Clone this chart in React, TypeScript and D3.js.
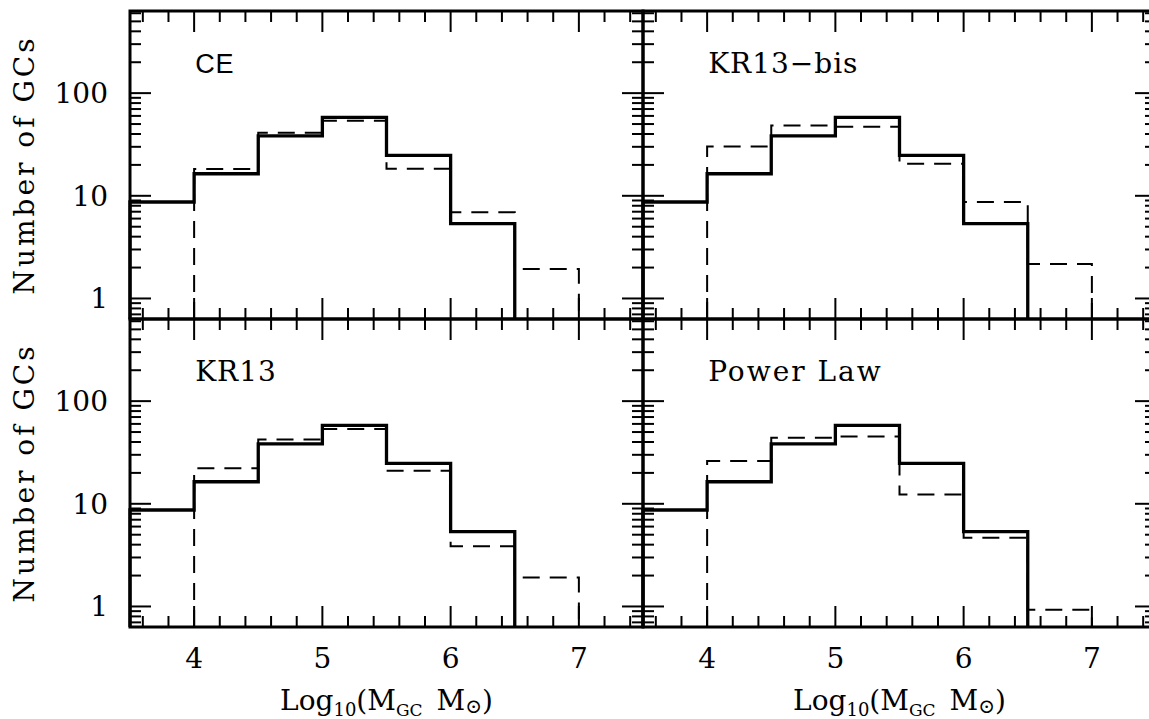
import React from 'react';
import * as d3 from 'd3';

// ---- data ----
const binEdges = [3.5, 4, 4.5, 5, 5.5, 6, 6.5, 7];
const observedCounts = [8.7, 16.4, 38.3, 58, 24.8, 5.35, 0];
const modelCE = [0, 18.2, 41.2, 53.8, 18.3, 6.9, 1.94];
const modelKR13bis = [0, 30.2, 48.5, 47.1, 20.5, 8.7, 2.17];
const modelKR13 = [0, 22.2, 42.4, 53.4, 21.0, 3.85, 1.91];
const modelPowerLaw = [0, 26.1, 44.0, 45.3, 12.3, 4.68, 0.93];
const panelNames = ['CE', 'KR13\u2212bis', 'KR13', 'Power Law'];
const panelModels = [modelCE, modelKR13bis, modelKR13, modelPowerLaw];
const xTickLabels = [4, 5, 6, 7];
const yTickLabels = [1, 10, 100];
const xDomain = [3.5, 7.5];
const yDomain = [Math.pow(10, -0.2), Math.pow(10, 2.8)];

// ---- layout ----
const W = 1149;
const H = 719;
const LEFT = 130;
const TOP = 11;
const PW = 513;
const PH = 308;
const SERIF = 'DejaVu Serif';

function stepPoints(values: number[]): [number, number | null][] {
  let first = values.findIndex((v) => v > 0);
  let last = values.length - 1;
  while (last >= 0 && !(values[last] > 0)) last--;
  const pts: [number, number | null][] = [];
  pts.push([binEdges[first], null]);
  for (let i = first; i <= last; i++) {
    pts.push([binEdges[i], values[i]]);
    pts.push([binEdges[i + 1], values[i]]);
  }
  pts.push([binEdges[last + 1], null]);
  return pts;
}

function Panel({ idx }: { idx: number }) {
  const col = idx % 2;
  const row = Math.floor(idx / 2);
  const x0 = LEFT + col * PW;
  const y0 = TOP + row * PH;
  const x = d3.scaleLinear().domain(xDomain).range([x0, x0 + PW]);
  const y = d3.scaleLog().domain(yDomain).range([y0 + PH, y0]);
  const yVal = (v: number | null) => (v == null ? y0 + PH : y(v));
  const line = d3
    .line<[number, number | null]>()
    .x((d) => x(d[0]))
    .y((d) => yVal(d[1]));

  const xTicks = d3.range(18, 38).map((k) => k / 5);
  const yTicks: number[] = [];
  for (let d = -1; d <= 2; d++) {
    for (let k = 1; k <= 9; k++) {
      const v = k * Math.pow(10, d);
      if (v >= yDomain[0] && v <= yDomain[1]) yTicks.push(v);
    }
  }
  const isMajorX = (v: number) => Math.abs(v - Math.round(v)) < 1e-6;
  const isMajorY = (v: number) => Math.abs(Math.log10(v) - Math.round(Math.log10(v))) < 1e-6;
  const MAJ = 21;
  const MIN = 11;
  const tickStroke = 2;

  const ticks: JSX.Element[] = [];
  xTicks.forEach((v, i) => {
    const L = isMajorX(v) ? MAJ : MIN;
    const px = x(v);
    ticks.push(<line key={'xb' + i} x1={px} x2={px} y1={y0 + PH} y2={y0 + PH - L} stroke="#000" strokeWidth={tickStroke} />);
    ticks.push(<line key={'xt' + i} x1={px} x2={px} y1={y0} y2={y0 + L} stroke="#000" strokeWidth={tickStroke} />);
  });
  yTicks.forEach((v, i) => {
    const L = isMajorY(v) ? MAJ : MIN;
    const py = y(v);
    ticks.push(<line key={'yl' + i} x1={x0} x2={x0 + L} y1={py} y2={py} stroke="#000" strokeWidth={tickStroke} />);
    ticks.push(<line key={'yr' + i} x1={x0 + PW} x2={x0 + PW - L} y1={py} y2={py} stroke="#000" strokeWidth={tickStroke} />);
  });

  const name = panelNames[idx];
  const isCE = idx === 0;

  return (
    <g>
      <path d={line(stepPoints(panelModels[idx])) || ''} fill="none" stroke="#000" strokeWidth={2} strokeDasharray="17 10" />
      <path d={line(stepPoints(observedCounts)) || ''} fill="none" stroke="#000" strokeWidth={3.3} strokeLinejoin="miter" />
      {ticks}
      <rect x={x0} y={y0} width={PW} height={PH} fill="none" stroke="#000" strokeWidth={3} />
      <text
        x={x(4) + 1}
        y={y0 + 62}
        fontFamily={isCE ? 'Liberation Sans' : SERIF}
        fontSize={isCE ? 27 : 28}
        letterSpacing={idx === 3 ? 2 : 1}
      >
        {name}
      </text>
      {col === 0 &&
        yTickLabels.map((v) => (
          <text key={'yl' + v} x={x0 - 22} y={y(v) + 10} textAnchor="end" fontFamily={SERIF} fontSize={28}>
            {v}
          </text>
        ))}
      {col === 0 && (
        <text
          transform={`translate(34, ${y0 + PH / 2}) rotate(-90)`}
          textAnchor="middle"
          fontFamily={SERIF}
          fontSize={28}
          letterSpacing={3}
        >
          Number of GCs
        </text>
      )}
      {row === 1 &&
        xTickLabels.map((v) => (
          <text key={'xl' + v} x={x(v)} y={668} textAnchor="middle" fontFamily={SERIF} fontSize={28}>
            {v}
          </text>
        ))}
      {row === 1 && (
        <text x={x0 + PW / 2} y={710} textAnchor="middle" fontFamily={SERIF} fontSize={28}>
          Log
          <tspan fontSize={18} dy={6}>10</tspan>
          <tspan dy={-6}>(M</tspan>
          <tspan fontSize={17} dy={6}>GC</tspan>
          <tspan dy={-6}>{'\u2002M'}</tspan>
          <tspan fontSize={20} dy={3}>{'\u2299'}</tspan>
          <tspan dy={-3}>)</tspan>
        </text>
      )}
    </g>
  );
}

export default function App() {
  return (
    <svg
      width={W}
      height={H}
      style={{ position: 'absolute', left: 0, top: 0, background: '#fff', display: 'block' }}
    >
      <rect x={0} y={0} width={W} height={H} fill="#fff" />
      {[0, 1, 2, 3].map((i) => (
        <Panel key={i} idx={i} />
      ))}
    </svg>
  );
}
